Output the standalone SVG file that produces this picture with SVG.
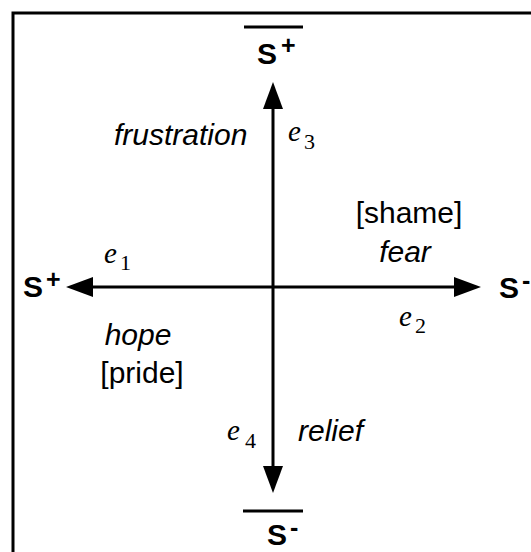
<svg xmlns="http://www.w3.org/2000/svg" width="531" height="552" viewBox="0 0 531 552">
<style>
.lbl{font-family:"Liberation Sans",Arial,sans-serif;font-size:30px;fill:#000}
.it{font-style:italic}
.st{font-family:"Liberation Sans",Arial,sans-serif;font-size:30px;font-weight:bold;fill:#000}
.sup{font-family:"Liberation Sans",Arial,sans-serif;font-size:25px;font-weight:bold;fill:#000}
.e{font-family:"Liberation Serif","Times New Roman",serif;font-size:29px;font-style:italic;fill:#000}
.sub{font-family:"Liberation Serif","Times New Roman",serif;font-size:22px;fill:#000}
.ax{stroke:#000;stroke-width:3;fill:none}
.bar{stroke:#000;stroke-width:3}
</style>
<rect width="531" height="552" fill="#fff"/>
<path d="M13,552 V13 H531" fill="none" stroke="#000" stroke-width="3"/>
<g id="connectors">
<line class="ax" x1="273" y1="106" x2="273" y2="468"/>
<line class="ax" x1="92" y1="287" x2="456" y2="287"/>
<polygon points="273,82 263,109 283,109"/>
<polygon points="273,493 263,466 283,466"/>
<polygon points="66,287 93,277 93,297"/>
<polygon points="481,287 454,277 454,297"/>
</g>
<g id="top-sbar">
<line class="bar" x1="244" y1="27" x2="303" y2="27"/>
<text class="st" x="257" y="64">S</text><text class="sup" x="281" y="54">+</text>
</g>
<g id="bottom-sbar">
<line class="bar" x1="243" y1="511" x2="303" y2="511"/>
<text class="st" x="267" y="545">S</text><text class="sup" x="290" y="536">-</text>
</g>
<g id="left-splus">
<text class="st" x="23" y="297">S</text><text class="sup" x="46" y="288">+</text>
</g>
<g id="right-sminus">
<text class="st" x="499" y="298">S</text><text class="sup" x="522" y="289">-</text>
</g>
<g id="labels">
<text class="lbl it" x="114" y="145">frustration</text>
<text class="lbl" x="409" y="223" text-anchor="middle">[shame]</text>
<text class="lbl it" x="405" y="262" text-anchor="middle">fear</text>
<text class="lbl it" x="138" y="345" text-anchor="middle">hope</text>
<text class="lbl" x="142" y="383" text-anchor="middle">[pride]</text>
<text class="lbl it" x="298" y="441">relief</text>
</g>
<g id="edge-labels">
<text class="e" x="104" y="263">e</text><text class="sub" x="120" y="270">1</text>
<text class="e" x="399" y="326">e</text><text class="sub" x="415" y="333">2</text>
<text class="e" x="288" y="141">e</text><text class="sub" x="304" y="149">3</text>
<text class="e" x="227" y="440">e</text><text class="sub" x="245" y="448">4</text>
</g>
</svg>
